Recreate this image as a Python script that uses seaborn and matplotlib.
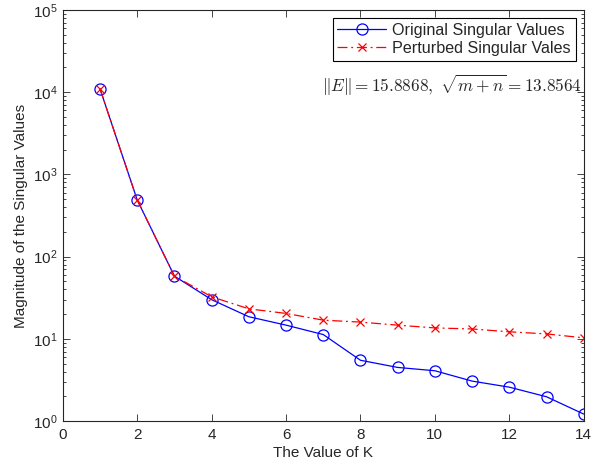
import numpy as np
import pandas as pd
import seaborn as sns
import matplotlib.pyplot as plt
from matplotlib.ticker import LogLocator, NullFormatter

k_values = list(range(1, 15))
original_sv = [11000, 490, 58, 30, 18.6, 14.7, 11.3, 5.5, 4.5, 4.1, 3.07, 2.59, 1.98, 1.22]
perturbed_sv = [11000, 490, 58, 32.5, 23.2, 20.4, 16.9, 16.0, 14.7, 13.6, 13.2, 12.2, 11.5, 10.3]

sns.set_style("ticks")
plt.rcParams['font.family'] = ['Liberation Sans', 'DejaVu Sans']
plt.rcParams['mathtext.fontset'] = 'cm'
plt.rcParams['xtick.direction'] = 'in'
plt.rcParams['ytick.direction'] = 'in'

df = pd.DataFrame({"K": k_values, "orig": original_sv, "pert": perturbed_sv})

fig = plt.figure(figsize=(5.92, 4.69), dpi=100)
ax = fig.add_axes([0.106, 0.102, 0.880, 0.877])

sns.lineplot(data=df, x="K", y="orig", ax=ax, color="blue", lw=0.9,
             marker="o", markersize=8, markerfacecolor="none",
             markeredgecolor="blue", markeredgewidth=0.9,
             label="Original Singular Values")
sns.lineplot(data=df, x="K", y="pert", ax=ax, color="red", lw=0.9,
             marker="x", markersize=6, markeredgecolor="red",
             markeredgewidth=0.9, label="Perturbed Singular Vales")
ax.lines[1].set_dashes([8, 3, 1.5, 3])

ax.set_yscale("log")
ax.set_xlim(0, 14)
ax.set_ylim(1, 1e5)
ax.set_xticks(range(0, 15, 2))
ax.yaxis.set_major_locator(LogLocator(base=10, numticks=10))
ax.yaxis.set_minor_locator(LogLocator(base=10, subs=np.arange(2, 10), numticks=10))
ax.yaxis.set_minor_formatter(NullFormatter())
ax.tick_params(which="both", top=True, right=True, labelsize=11, width=0.6)
ax.tick_params(which="major", length=5)
ax.tick_params(which="minor", length=2.5)
ax.tick_params(axis="x", pad=5)
for s in ax.spines.values():
    s.set_linewidth(0.8)

ax.set_xlabel("The Value of K", fontsize=11, labelpad=3)
ax.set_ylabel("Magnitude of the Singular Values", fontsize=11)

leg = ax.legend(loc="upper right", fontsize=11.6, frameon=True, fancybox=False,
                borderaxespad=0.5, handlelength=3, borderpad=0.3,
                labelspacing=0.2, handletextpad=0.4)
leg.get_frame().set_edgecolor("black")
leg.get_frame().set_linewidth(0.8)
leg.get_frame().set_alpha(1)

ax.text(0.997, 0.815, r"$\|E\|=15.8868,\ \sqrt{m+n}=13.8564$",
        transform=ax.transAxes, ha="right", va="center", fontsize=12.4)

fig.savefig("out.png", dpi=100)
